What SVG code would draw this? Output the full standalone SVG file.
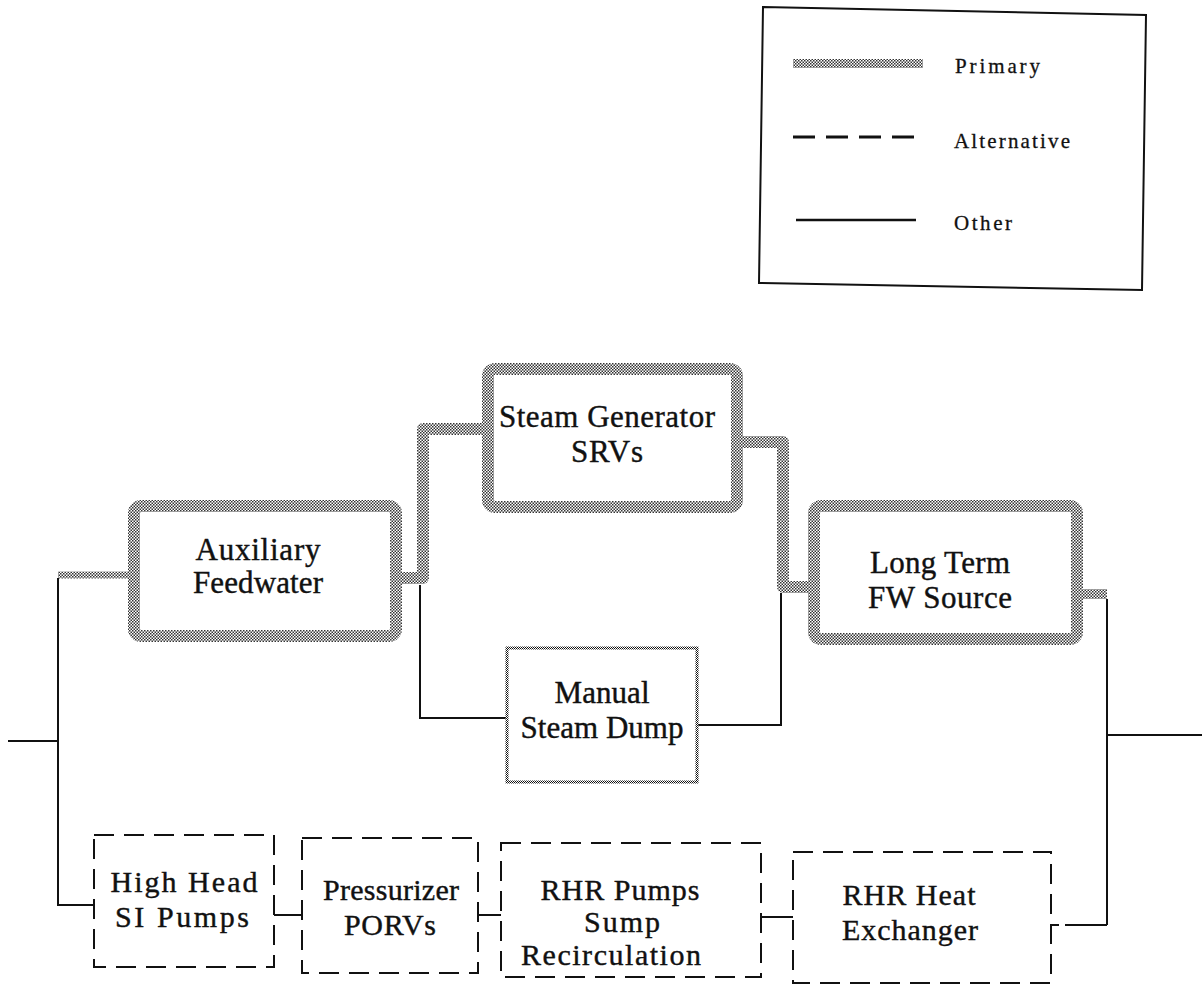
<svg xmlns="http://www.w3.org/2000/svg" width="1202" height="985" viewBox="0 0 1202 985">
<defs>
<pattern id="ht" patternUnits="userSpaceOnUse" width="3" height="3">
<rect width="3" height="3" fill="#fff"/>
<rect x="0" y="0" width="1.5" height="1.5" fill="#333"/>
<rect x="1.5" y="1.5" width="1.5" height="1.5" fill="#333"/>
</pattern>
<pattern id="dt" patternUnits="userSpaceOnUse" width="2" height="2">
<rect width="2" height="2" fill="#fff"/>
<rect x="0" y="0" width="1" height="1" fill="#111"/>
<rect x="1" y="1" width="1" height="1" fill="#111"/>
</pattern>
<style>
.t{font-family:"Liberation Serif","Times New Roman",serif;font-size:31px;fill:#111;stroke:#111;stroke-width:0.4;text-anchor:middle}
.tb{font-family:"Liberation Serif","Times New Roman",serif;font-size:30px;fill:#111;stroke:#111;stroke-width:0.4;text-anchor:middle}
.lg{font-family:"Liberation Serif","Times New Roman",serif;font-size:21px;fill:#111;stroke:#111;stroke-width:0.3}
.prim{fill:none;stroke:url(#ht);stroke-width:12;stroke-linejoin:round}
.primbox{fill:#fff;stroke:url(#ht);stroke-width:12}
.alt{fill:none;stroke:#111;stroke-width:2;stroke-dasharray:20 10}
.oth{fill:none;stroke:#111;stroke-width:2}
</style>
</defs>
<rect width="1202" height="985" fill="#fff"/>

<g id="legend">
<polygon points="763,7 1146,15 1142,290 759,283" fill="none" stroke="#111" stroke-width="2"/>
<rect x="793" y="59" width="130" height="9" fill="url(#ht)"/>
<text class="lg" x="955" y="73" textLength="85">Primary</text>
<line x1="793" y1="137" x2="917" y2="137" stroke="#111" stroke-width="3" stroke-dasharray="22 11"/>
<text class="lg" x="954" y="148" textLength="116">Alternative</text>
<line x1="796" y1="220" x2="916" y2="220" stroke="#111" stroke-width="2.5"/>
<text class="lg" x="954" y="230" textLength="58">Other</text>
</g>

<g id="connectors">
<path class="prim" d="M58,575 H134" style="stroke-width:7"/>
<path class="prim" d="M396,578 H423 V429 H488"/>
<path class="prim" d="M737,442 H783 V587 H814"/>
<path class="prim" d="M1077,594 H1107" style="stroke-width:10"/>
<path class="oth" d="M58,578 V905 H94"/>
<path class="oth" d="M8,741 H58"/>
<path class="oth" d="M420,585 V718 H507"/>
<path class="oth" d="M697,725 H781 V593"/>
<path class="oth" d="M1107,599 V925"/>
<path class="oth" d="M1107,735 H1202"/>
<path class="oth" d="M274,915 H302"/>
<path class="oth" d="M478,915 H501"/>
<path class="oth" d="M761,917 H793"/>
<path class="alt" d="M1051,925 H1107" style="stroke-dasharray:8 6 40 0"/>
</g>

<g id="aux">
<rect class="primbox" x="134" y="506" width="262" height="130" rx="7"/>
<text class="t" x="258" y="560" textLength="125">Auxiliary</text>
<text class="t" x="258" y="593" textLength="130">Feedwater</text>
</g>

<g id="sgsrv">
<rect class="primbox" x="488" y="369" width="249" height="138" rx="7"/>
<text class="t" x="607" y="427" textLength="216">Steam Generator</text>
<text class="t" x="607" y="462" textLength="72">SRVs</text>
</g>

<g id="ltfw">
<rect class="primbox" x="814" y="506" width="263" height="133" rx="7"/>
<text class="t" x="940" y="573" textLength="140">Long Term</text>
<text class="t" x="940" y="608" textLength="144">FW Source</text>
</g>

<g id="msd">
<rect x="507" y="648" width="190" height="134" fill="#fff" stroke="url(#dt)" stroke-width="3"/>
<text class="t" x="602" y="703" textLength="95">Manual</text>
<text class="t" x="602" y="738" textLength="163">Steam Dump</text>
</g>

<g id="hhsi">
<rect class="alt" x="94" y="835" width="180" height="132"/>
<text class="tb" x="184" y="892" textLength="147">High Head</text>
<text class="tb" x="182" y="927" textLength="134">SI Pumps</text>
</g>

<g id="porv">
<rect class="alt" x="302" y="838" width="176" height="135"/>
<text class="tb" x="391" y="900" textLength="136">Pressurizer</text>
<text class="tb" x="390" y="935" textLength="92">PORVs</text>
</g>

<g id="rhrp">
<rect class="alt" x="501" y="843" width="260" height="134"/>
<text class="tb" x="620" y="900" textLength="159">RHR Pumps</text>
<text class="tb" x="622" y="932" textLength="76">Sump</text>
<text class="tb" x="611" y="965" textLength="180">Recirculation</text>
</g>

<g id="rhrhx">
<rect class="alt" x="793" y="852" width="258" height="131"/>
<text class="tb" x="909" y="905" textLength="133">RHR Heat</text>
<text class="tb" x="910" y="940" textLength="136">Exchanger</text>
</g>
</svg>
